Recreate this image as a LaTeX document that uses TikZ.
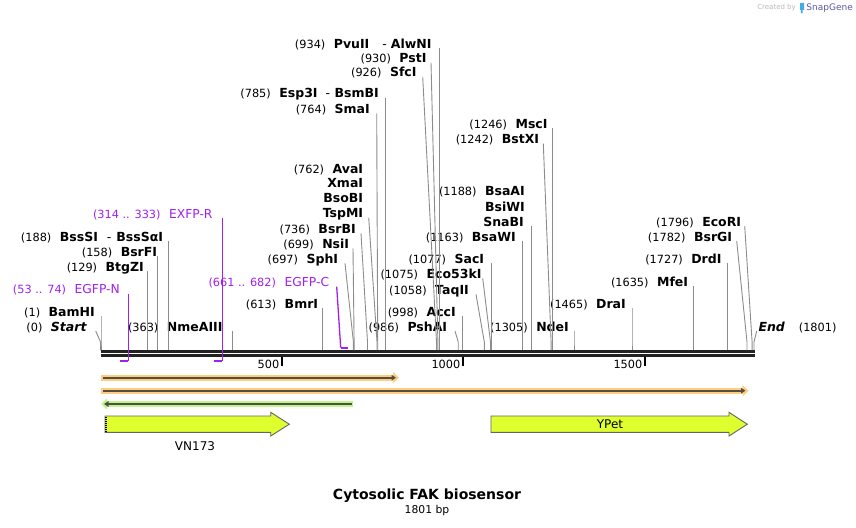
\documentclass[tikz,border=0pt]{standalone}
\usepackage{fontspec}
\setmainfont{DejaVu Sans}
\usetikzlibrary{arrows.meta}
\definecolor{cutGray}{RGB}{140,140,140}
\definecolor{primerPurple}{RGB}{160,32,240}
\definecolor{featYellow}{RGB}{224,255,46}
\definecolor{featEdge}{RGB}{100,100,100}
\definecolor{bandOrange}{RGB}{255,204,128}
\definecolor{bandGreen}{RGB}{190,245,140}
\definecolor{bandCore}{RGB}{80,80,64}
\definecolor{backboneBlack}{RGB}{34,34,34}
\definecolor{snapBlue}{RGB}{70,170,230}
\newcommand\pos[1]{{\fontsize{11.3}{13}\selectfont\mdseries(#1)}\hspace{8.5pt}}
\newcommand\cutsite[3]{\draw[cutline] (#2,0 |- #1.base) -- (#3,342) -- (#3,350);}
\tikzset{
  % enzyme and primer labels sit on their base line, right end given
  enz/.style={anchor=base east, inner sep=0pt, font=\fontsize{12.5}{14}\selectfont\bfseries},
  prm/.style={anchor=base east, inner sep=0pt, text=primerPurple, font=\fontsize{12.3}{14}\selectfont},
  cutline/.style={draw=cutGray, line width=0.9pt},
  primerline/.style={draw=primerPurple, line width=1.3pt},
  primerbar/.style={draw=primerPurple, line width=2.2pt},
  backbone/.style={draw=backboneBlack, line width=2.8pt},
  tick/.style={draw=black, line width=1.6pt},
  ticklab/.style={anchor=base east, inner sep=0pt, font=\fontsize{11.3}{13}\selectfont},
  band/.style={line width=6pt, draw=#1, -{Triangle[length=6pt,width=11pt]}},
  core/.style={line width=1.8pt, draw=bandCore, -{Triangle[length=4.5pt,width=5.5pt]}},
  feature/.style={fill=featYellow, draw=featEdge, line width=0.9pt, line join=miter},
  featlab/.style={font=\fontsize{12}{14}\selectfont, inner sep=0pt}
}
\begin{document}
\begin{tikzpicture}[x=1pt,y=-1pt]
\useasboundingbox (0,0) rectangle (856,527);

% watermark
\node[text=gray!55, font=\fontsize{7}{8}\selectfont, inner sep=0pt, anchor=east] (made) at (796,8) {Created by};
\fill[snapBlue] (800,3) rectangle (804,10) (800.8,10) rectangle (802.6,13.5);
\node[text=gray!70!blue, font=\fontsize{9}{10}\selectfont, inner sep=0pt, anchor=east] (snap) at (853,8) {SnapGene};

% backbone and scale
\draw[backbone] (100.5,351.7) coordinate (bbL) -- (754.5,351.7) coordinate (bbR);
\draw[backbone] (100.5,355.7) -- (754.5,355.7);
\draw[tick] (282,357) -- (282,365.5);
\draw[tick] (463,357) -- (463,365.5);
\draw[tick] (645,357) -- (645,365.5);
\node[ticklab] (t500) at (279.5,368) {500};
\node[ticklab] (t1000) at (460.5,368) {1000};
\node[ticklab] (t1500) at (642.5,368) {1500};

% enzyme labels, top group
\node[enz] (pvu) at (431.7,48.3) {\pos{934}PvuII\hspace{13pt}{\mdseries -}\hspace{4pt}AlwNI};
\node[enz] (pst) at (426.7,62.6) {\pos{930}PstI};
\node[enz] (sfc) at (416.7,77) {\pos{926}SfcI};
\node[enz] (esp) at (379,97.6) {\pos{785}Esp3I\hspace{8pt}{\mdseries -}\hspace{4.5pt}BsmBI};
\node[enz] (sma) at (370,113.3) {\pos{764}SmaI};
\node[enz] (msc) at (547.7,128.3) {\pos{1246}MscI};
\node[enz] (bstx) at (539.3,143.6) {\pos{1242}BstXI};

\node[enz] (ava) at (363.3,173.3) {\pos{762}AvaI};
\node[enz] (xma) at (363.3,187.6) {XmaI};
\node[enz] (bsob) at (363.3,202.6) {BsoBI};
\node[enz] (tsp) at (363.3,217.6) {TspMI};
\node[enz] (bsrb) at (356,233.3) {\pos{736}BsrBI};
\node[enz] (nsi) at (349.3,248.3) {\pos{699}NsiI};
\node[enz] (sph) at (338.3,263.3) {\pos{697}SphI};

\node[enz] (bsaa) at (525,195.3) {\pos{1188}BsaAI};
\node[enz] (bsiw) at (525,211) {BsiWI};
\node[enz] (snab) at (524,226) {SnaBI};
\node[enz] (bsaw) at (516,241) {\pos{1163}BsaWI};
\node[enz] (sac) at (484.3,263.3) {\pos{1077}SacI};
\node[enz] (eco53) at (481.7,278.3) {\pos{1075}Eco53kI};
\node[enz] (taq) at (469,294.3) {\pos{1058}TaqII};
\node[enz] (acc) at (456,316) {\pos{998}AccI};
\node[enz] (psha) at (447.3,331) {\pos{986}PshAI};
\node[enz] (nde) at (569,331) {\pos{1305}NdeI};

\node[enz] (dra) at (626,308.3) {\pos{1465}DraI};
\node[enz] (mfe) at (688.3,286) {\pos{1635}MfeI};
\node[enz] (drd) at (721.7,263.3) {\pos{1727}DrdI};
\node[enz] (bsrg) at (732.3,241) {\pos{1782}BsrGI};
\node[enz] (ecori) at (741.3,226) {\pos{1796}EcoRI};
\node[enz, anchor=base west] (end) at (758.3,331) {\itshape End\hspace{14pt}{\fontsize{11.3}{13}\selectfont\mdseries\upshape(1801)}};

\node[enz] (bsss) at (163.3,241) {\pos{188}BssSI\hspace{9pt}{\mdseries -}\hspace{5pt}BssSαI};
\node[enz] (bsrf) at (157.3,256) {\pos{158}BsrFI};
\node[enz] (btgz) at (144,271) {\pos{129}BtgZI};
\node[enz] (bam) at (95,316) {\pos{1}BamHI};
\node[enz] (start) at (86.7,331) {\pos{0}\itshape Start};
\node[enz] (nme) at (222.7,331) {\pos{363}NmeAIII};
\node[enz] (bmr) at (318.3,308.3) {\pos{613}BmrI};

% cut site lines: label, start x, site x
\cutsite{pvu}{439.4}{439.4}
\cutsite{pst}{431}{437.9}
\cutsite{sfc}{422.7}{436.5}
\cutsite{esp}{385.3}{385.3}
\cutsite{sma}{376.7}{377.7}
\cutsite{msc}{552.5}{552.5}
\cutsite{bstx}{543.3}{551.1}
\cutsite{tsp}{368.7}{377}
\cutsite{bsrb}{361}{367.5}
\cutsite{nsi}{353}{354.1}
\cutsite{sph}{345}{353.4}
\cutsite{snab}{531.5}{531.5}
\cutsite{bsaw}{522.4}{522.4}
\cutsite{sac}{491.2}{491.2}
\cutsite{eco53}{482.7}{490.5}
\cutsite{taq}{476}{484.3}
\cutsite{acc}{462.6}{462.6}
\cutsite{psha}{455}{458.2}
\cutsite{nde}{574}{574}
\cutsite{dra}{632}{632}
\cutsite{mfe}{693.7}{693.7}
\cutsite{drd}{727.1}{727.1}
\cutsite{bsrg}{736.7}{747}
\cutsite{ecori}{744.7}{752.1}
\cutsite{end}{756.7}{754}
\cutsite{bsss}{168.9}{168.9}
\cutsite{bsrf}{157.8}{157.8}
\cutsite{btgz}{147.3}{147.3}
\cutsite{bam}{101}{101}
\cutsite{start}{95.7}{100.6}
\cutsite{nme}{232.2}{232.2}
\cutsite{bmr}{322.9}{322.9}

% primers
\node[prm] (exfp) at (212.7,218.3) {\pos{314 .. 333}EXFP-R};
\node[prm] (egfpn) at (120,293.6) {\pos{53 .. 74}EGFP-N};
\node[prm] (egfpc) at (329.3,286.6) {\pos{661 .. 682}EGFP-C};
\draw[primerline] (222.3,0 |- exfp.base) -- (222.3,361) coordinate (exfpR);
\draw[primerbar] (214.4,361) -- (exfpR);
\draw[primerline] (128.3,0 |- egfpn.base) -- (128.3,361) coordinate (egfpnR);
\draw[primerbar] (119.7,361) -- (egfpnR);
\draw[primerline] (336.7,0 |- egfpc.base) -- (340.7,347.7) coordinate (egfpcL);
\draw[primerbar] (egfpcL) -- (347.9,347.7);

% feature bands
\draw[band=bandOrange] (101,377.7) -- (399,377.7);
\draw[core] (103,377.7) -- (396,377.7);
\draw[band=bandOrange] (101,390.7) -- (748.5,390.7);
\draw[core] (103,390.7) -- (745.5,390.7);
\draw[band=bandGreen] (353.3,404) -- (101,404);
\draw[core] (351.7,404) -- (104,404);

% features
\draw[feature] (105,416) -- (270.7,416) -- (270.7,412.3) -- (289.3,424.2)
  -- (270.7,436) -- (270.7,432.3) -- (105,432.3) -- cycle;
\draw[black, line width=2pt, dash pattern=on 1pt off 1pt] (106.2,416.5) -- (106.2,432);
\draw[feature] (491,416) -- (729,416) -- (729,412.3) -- (747.3,424.2)
  -- (729,436) -- (729,432.3) -- (491,432.3) -- cycle;
\node[featlab] (vn173) at (195,446) {VN173};
\node[featlab] (ypet) at (610,424) {YPet};

% title
\node[font=\fontsize{14}{16}\selectfont\bfseries, inner sep=0pt] (title) at (427,496) {Cytosolic FAK biosensor};
\node[font=\fontsize{10.8}{12}\selectfont, inner sep=0pt] (size) at (427,511) {1801 bp};

\end{tikzpicture}
\end{document}
